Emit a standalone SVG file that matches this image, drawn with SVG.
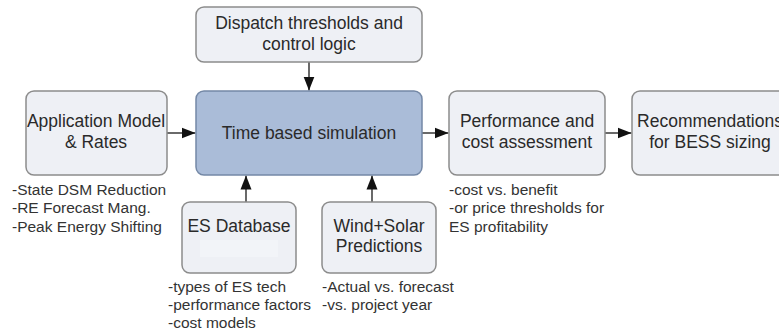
<svg xmlns="http://www.w3.org/2000/svg" width="779" height="333" viewBox="0 0 779 333">
<defs>
<style>
.box{fill:#eef0f5;stroke:#8c8c8c;stroke-width:1.5}
.main{fill:#aabcd8;stroke:#7488a6;stroke-width:1.5}
.t{font-family:"Liberation Sans",Arial,sans-serif;font-size:17.5px;fill:#2a2a2a;text-anchor:middle}
.n{font-family:"Liberation Sans",Arial,sans-serif;font-size:15.5px;fill:#333}
.c{stroke:#1a1a1a;stroke-width:1.3;fill:none;marker-end:url(#ah)}
</style>
<marker id="ah" viewBox="0 0 14 12" refX="14" refY="6" markerWidth="14" markerHeight="12" markerUnits="userSpaceOnUse" orient="auto">
<path d="M0,0.5 L14,6 L0,11.5 Z" fill="#111"/>
</marker>
</defs>
<rect width="779" height="333" fill="#ffffff"/>
<g id="connectors">
<line class="c" x1="309" y1="62" x2="309" y2="90.5"/>
<line class="c" x1="167" y1="133" x2="195.5" y2="133"/>
<line class="c" x1="422" y1="133" x2="448.5" y2="133"/>
<line class="c" x1="605" y1="133" x2="631.5" y2="133"/>
<line class="c" x1="246" y1="202" x2="246" y2="175.5"/>
<line class="c" x1="372" y1="202" x2="372" y2="175.5"/>
</g>
<g id="dispatch">
<rect class="box" x="196" y="7" width="226" height="55" rx="8"/>
<text class="t" x="309" y="29">Dispatch thresholds and</text>
<text class="t" x="309" y="50">control logic</text>
</g>
<g id="application">
<rect class="box" x="26" y="91" width="141" height="84" rx="8"/>
<text class="t" x="96" y="127">Application Model</text>
<text class="t" x="96" y="148">&amp; Rates</text>
<text class="n" x="12" y="195">-State DSM Reduction</text>
<text class="n" x="12" y="213">-RE Forecast Mang.</text>
<text class="n" x="12" y="232">-Peak Energy Shifting</text>
</g>
<g id="simulation">
<rect class="main" x="196" y="91" width="226" height="84" rx="8"/>
<text class="t" x="309" y="139">Time based simulation</text>
</g>
<g id="performance">
<rect class="box" x="449" y="91" width="156" height="84" rx="8"/>
<text class="t" x="527" y="127">Performance and</text>
<text class="t" x="527" y="148">cost assessment</text>
<text class="n" x="449" y="195">-cost vs. benefit</text>
<text class="n" x="449" y="213">-or price thresholds for</text>
<text class="n" x="449" y="232">ES profitability</text>
</g>
<g id="recommendations">
<rect class="box" x="632" y="91" width="156" height="84" rx="8"/>
<text class="t" x="710" y="127">Recommendations</text>
<text class="t" x="710" y="148">for BESS sizing</text>
</g>
<g id="esdb">
<rect class="box" x="182" y="202" width="114" height="71" rx="8"/>
<rect x="200" y="240" width="78" height="17" fill="#f2f4f8"/>
<text class="t" x="239" y="232">ES Database</text>
<text class="n" x="168" y="292">-types of ES tech</text>
<text class="n" x="168" y="310">-performance factors</text>
<text class="n" x="168" y="328">-cost models</text>
</g>
<g id="windsolar">
<rect class="box" x="322" y="202" width="114" height="71" rx="8"/>
<text class="t" x="379" y="232">Wind+Solar</text>
<text class="t" x="379" y="252">Predictions</text>
<text class="n" x="322" y="292">-Actual vs. forecast</text>
<text class="n" x="322" y="310">-vs. project year</text>
</g>
</svg>
